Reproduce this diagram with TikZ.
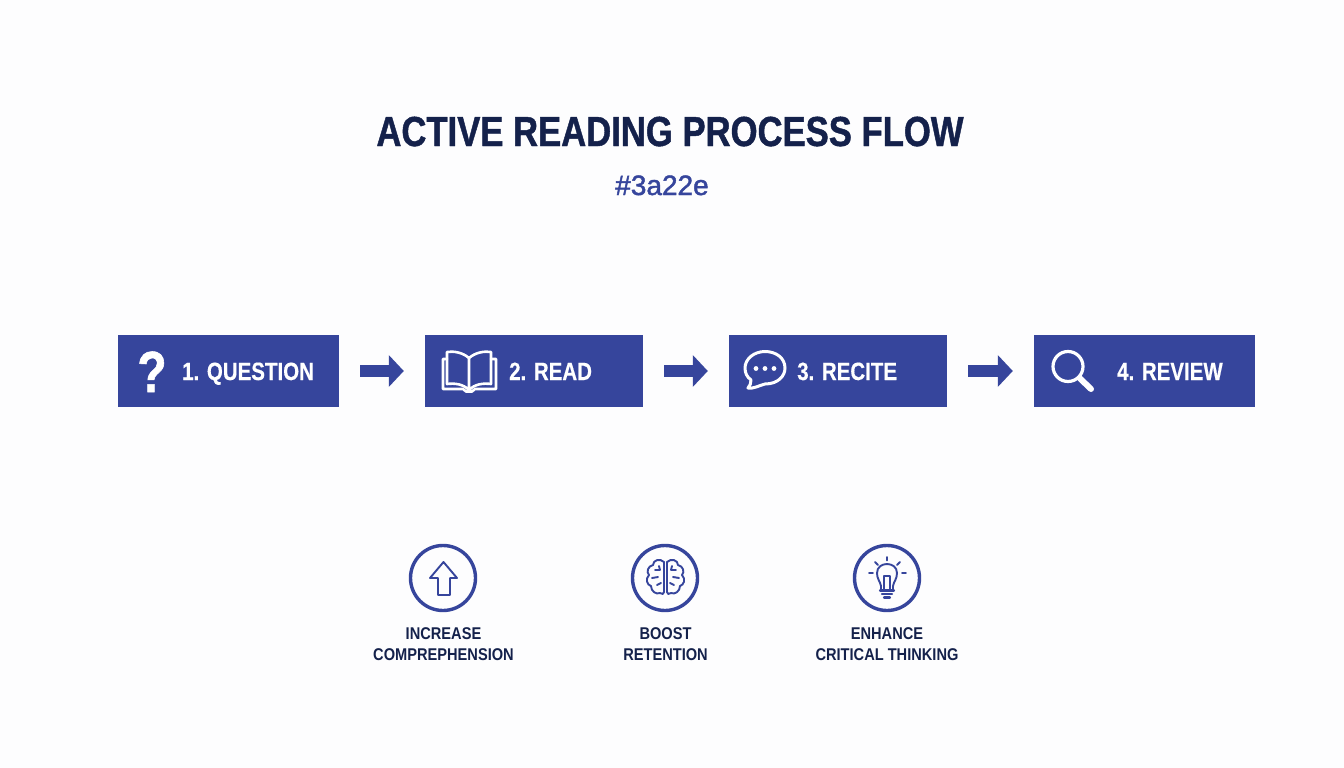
\documentclass[tikz,border=0pt]{standalone}
\usepackage{fontspec}
\setmainfont{Liberation Sans}[BoldFont={Liberation Sans Bold}]
\newfontfamily\tfont{Liberation Sans Bold}[FakeStretch=0.86]
\newfontfamily\sfont{Liberation Sans Bold}[FakeStretch=0.82,FakeBold=0.4]
\newfontfamily\hfont{Liberation Sans Bold}[FakeStretch=0.825,FakeBold=1]
\newfontfamily\rfont{Liberation Sans}[FakeBold=1.6]
\usetikzlibrary{arrows.meta}
\definecolor{boxblue}{HTML}{36459C}
\definecolor{inkdark}{HTML}{14214B}
\definecolor{paper}{HTML}{FDFDFE}
\tikzset{
  x=1pt,y=-1pt,
  stepbox/.style={fill=boxblue,draw=none,inner sep=0pt,minimum height=72pt},
  flow/.style={draw=boxblue,line width=12pt,-{Triangle[length=15pt,width=31pt]},shorten >=21pt,shorten <=21pt},
  steptext/.style={text=white,anchor=base west,inner sep=0pt,font=\sfont\fontsize{25}{25}\selectfont},
  ring/.style={circle,draw=boxblue,line width=3.4pt,minimum size=65pt,inner sep=0pt},
  benefit/.style={text=inkdark,align=center,inner sep=0pt,font=\tfont\fontsize{17}{21}\selectfont},
  wicon/.style={draw=white,line width=3pt,line join=round,line cap=round},
  bicon/.style={draw=boxblue,line width=1.9pt,line join=round,line cap=round},
}
\begin{document}
\begin{tikzpicture}
\useasboundingbox (0,0) rectangle (1344,768);
\fill[paper] (0,0) rectangle (1344,768);
\node[text=inkdark,inner sep=0pt,anchor=base,font=\hfont\fontsize{42}{42}\selectfont] (title) at (670,146) {ACTIVE READING PROCESS FLOW};
\node[text=boxblue,inner sep=0pt,anchor=base,font=\rfont\fontsize{28}{28}\selectfont] (sub) at (662,195) {\#3a22e};
\node[stepbox,minimum width=221pt] (b1) at (228.5,371) {};
\node[stepbox,minimum width=218pt] (b2) at (534,371) {};
\node[stepbox,minimum width=218pt] (b3) at (838,371) {};
\node[stepbox,minimum width=221pt] (b4) at (1144.5,371) {};
\draw[flow] (b1) -- (b2);
\draw[flow] (b2) -- (b3);
\draw[flow] (b3) -- (b4);
\node[steptext] (t1) at (182,380) {1. QUESTION};
\node[steptext] (t2) at (509,380) {2. READ};
\node[steptext] (t3) at (797,380) {3. RECITE};
\node[steptext] (t4) at (1117,380) {4. REVIEW};
\node[text=white,inner sep=0pt,anchor=base,font=\hfont\fontsize{58}{58}\selectfont] (q) at (152,392) {?};
% book
\draw[wicon,line width=2.6pt] (469,358) .. controls (462,352) and (453,351) .. (447,352) -- (447,384) .. controls (455,383) and (463,384) .. (469,390) .. controls (475,384) and (483,383) .. (491,384) -- (491,352) .. controls (485,351) and (476,352) .. (469,358) -- (469,390);
\draw[wicon,line width=2.6pt] (447,359) -- (443,359) -- (443,389) -- (463,389) -- (466,391.5) -- (472,391.5) -- (475,389) -- (496,389) -- (496,359) -- (491,359);
% bubble
\draw[wicon] (765,384) .. controls (778,384) and (785,376) .. (785,368) .. controls (785,358) and (776,351.5) .. (765,351.5) .. controls (754,351.5) and (745,359) .. (745,368) .. controls (745,373) and (747,377) .. (751,380) .. controls (751,383) and (750,386) .. (748,388) .. controls (753,389) and (758,386) .. (765,384) -- cycle;
\fill[white] (756,368.5) circle (2.4pt) (765,368.5) circle (2.4pt) (774,368.5) circle (2.4pt);
% magnifier
\draw[wicon,line width=3.2pt] (1068,366.5) circle (15pt);
\draw[wicon,line width=6pt] (1080,378.5) -- (1091,389);
% benefits
\node[ring] (r1) at (443,578) {};
\node[ring] (r2) at (665,578) {};
\node[ring] (r3) at (887,578) {};
\draw[bicon] (443.5,562) -- (457,578) -- (450,578) -- (450,595) -- (438,595) -- (438,578) -- (430,578) -- cycle;
% brain
\draw[bicon] (664,562) .. controls (660,558) and (653,560) .. (653,565) .. controls (648,566) and (646,572) .. (649,575) .. controls (645,579) and (647,585) .. (651,586) .. controls (651,591) and (656,595) .. (660,593) .. controls (662,595) and (664,594) .. (664,592) -- cycle;
\draw[bicon] (667,562) .. controls (671,558) and (678,560) .. (678,565) .. controls (683,566) and (685,572) .. (682,575) .. controls (686,579) and (684,585) .. (680,586) .. controls (680,591) and (675,595) .. (671,593) .. controls (669,595) and (667,594) .. (667,592) -- cycle;
\draw[bicon] (655,570) -- (660,570) (659,566) -- (660,570) (652,578) -- (658,577) (657,585) -- (661,583) (676,570) -- (671,570) (672,566) -- (671,570) (679,578) -- (673,577) (674,585) -- (670,583);
% bulb
\draw[bicon] (881,590) -- (881,586) .. controls (880,581) and (877,579) .. (877,573) .. controls (877,567) and (882,564) .. (887,564) .. controls (892,564) and (897,567) .. (897,573) .. controls (897,579) and (894,581) .. (893,586) -- (893,590);
\draw[bicon] (884,589) -- (884,576) -- (890,576) -- (890,589);
\draw[bicon,line width=2.2pt] (880,590.5) -- (894,590.5) (882,594) -- (892,594) (884,597.5) -- (890,597.5);
\draw[bicon] (887,557) -- (887,560.5) (875,562) -- (878,565) (900,562) -- (897,565) (869,573) -- (873,573) (902,573) -- (906,573);
\node[benefit] (l1) at (443.5,644.5) {INCREASE\\COMPREPHENSION};
\node[benefit] (l2) at (665.5,644.5) {BOOST\\RETENTION};
\node[benefit] (l3) at (887,644.5) {ENHANCE\\CRITICAL THINKING};
\end{tikzpicture}
\end{document}
